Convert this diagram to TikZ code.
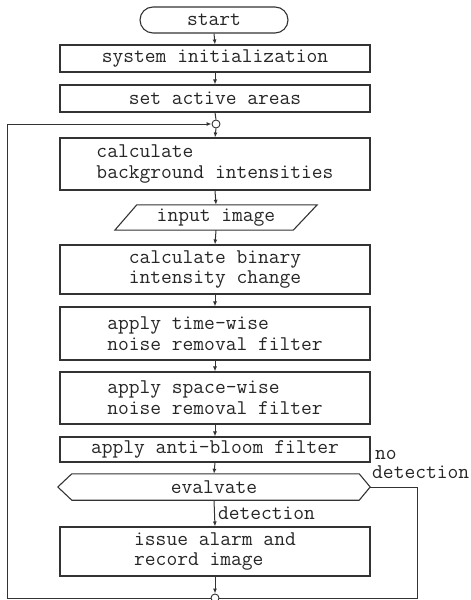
\documentclass[tikz,border=0pt]{standalone}
\usetikzlibrary{arrows.meta,shapes.misc}
\begin{document}
\begin{tikzpicture}[x=1bp,y=-1bp,
  ink/.style={draw=black!80,line width=1.1pt},
  txt/.style={font=\ttfamily\fontsize{21}{21}\selectfont,text=black!85},
  box/.style={ink,txt,rectangle,minimum width=310bp,inner sep=2bp,align=left},
  bare/.style={txt,rectangle,inner sep=2bp,align=left},
  lbl/.style={txt,inner sep=0pt},
  flow/.style={draw=black!80,line width=1pt,-{Latex[length=5bp,width=4bp]}},
  line/.style={draw=black!80,line width=1pt},
  junc/.style={ink,circle,minimum size=8bp,inner sep=0pt,line width=0.9pt}]
\useasboundingbox (0,0) rectangle (471,600);
\node[box,rounded rectangle,minimum width=152bp,minimum height=26bp] (st) at (214,20) {start};
\node[box,minimum height=27bp] (si) at (215,58.5) {system initialization};
\node[box,minimum height=27bp] (sa) at (215,98.5) {set active areas};
\node[junc] (j1) at (216,124) {};
\node[box,minimum height=52bp] (cb) at (215,164) {calculate\\background intensities};
\node[bare,minimum width=202bp,minimum height=25bp] (ii) at (216,217.5) {input image};
\draw[ink] (ii.south west) -- ([xshift=22bp]ii.north west) -- (ii.north east)
  -- ([xshift=-24bp]ii.south east) -- cycle;
\node[box,minimum height=49bp] (cbi) at (215,269.5) {calculate binary\\intensity change};
\node[box,minimum height=53bp] (tw) at (215,333.5) {apply time-wise\\noise removal filter};
\node[box,minimum height=52bp] (sw) at (215,398) {apply space-wise\\noise removal filter};
\node[box,minimum height=25bp] (ab) at (215,449.5) {apply anti-bloom filter};
\node[bare,minimum width=312bp,minimum height=26bp] (ev) at (214,487) {evalvate};
\draw[ink] (ev.west) -- ([xshift=14bp]ev.north west) -- ([xshift=-11bp]ev.north east)
  -- (ev.east) -- ([xshift=-11bp]ev.south east) -- ([xshift=14bp]ev.south west) -- cycle;
\node[box,minimum height=49bp] (ia) at (215,551.5) {issue alarm and\\record image};
\node[junc] (j2) at (215,598) {};
\coordinate (nd) at (417,487);
\coordinate (nb) at (417,598);
\coordinate (lb) at (7,598);
\coordinate (lt) at (7,124);
\path[flow] (st.south) -- (si.north);
\path[flow] (si.south) -- (sa.north);
\path[line] (sa.south) -- (j1.north);
\path[flow] (lt) -- (j1.west);
\path[flow] (j1.south) -- (cb.north);
\path[flow] (cb.south) -- (ii.north);
\path[flow] (ii.south) -- (cbi.north);
\path[flow] (cbi.south) -- (tw.north);
\path[flow] (tw.south) -- (sw.north);
\path[flow] (sw.south) -- (ab.north);
\path[flow] (ab.south) -- (ev.north);
\path[flow] (ev.south) -- node[lbl,anchor=west,xshift=3bp] (dl) {detection} (ia.north);
\path[flow] (ia.south) -- (j2.north);
\path[line] (ev.east) -- (nd) -- (nb) -- (j2.east);
\path[line] (j2.west) -- (lb) -- (lt);
\node[lbl,anchor=base west] (nol) at (375,459) {no};
\node[lbl,anchor=base west] (detl) at (372,478) {detection};
\end{tikzpicture}
\end{document}
